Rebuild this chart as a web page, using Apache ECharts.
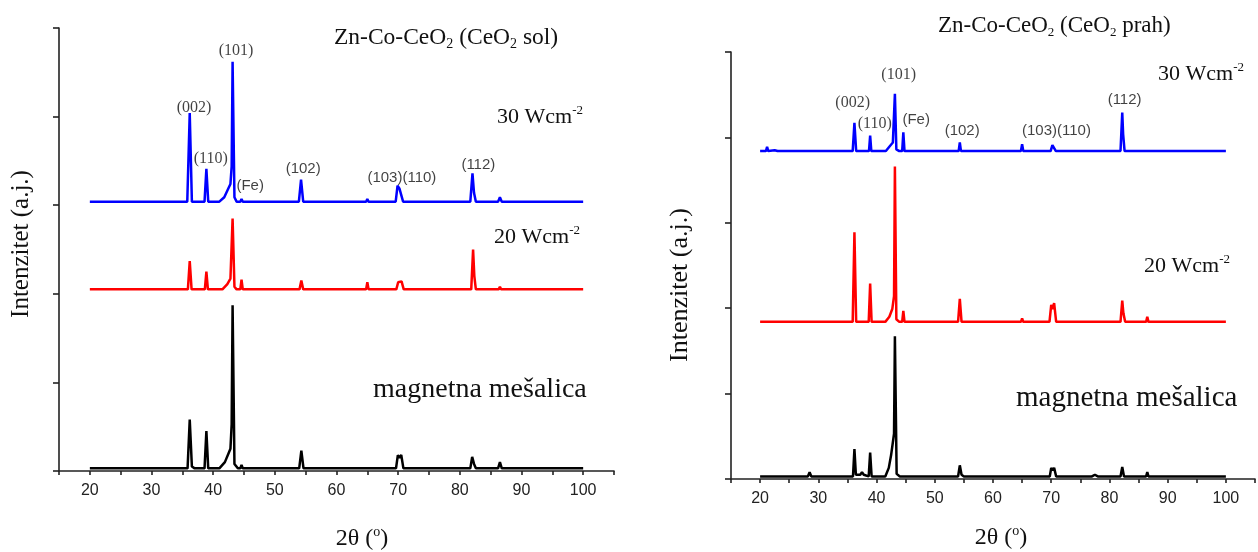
<!DOCTYPE html>
<html><head><meta charset="utf-8">
<script src="https://cdn.jsdelivr.net/npm/echarts@6/dist/echarts.min.js"></script>
<style>html,body{margin:0;padding:0;background:#fff}#c{width:1258px;height:552px}</style>
</head><body><div id="c"></div>
<script>
// ---- data (2θ in degrees, intensity above each trace's own baseline, a.u.) ----
const xTickLabels = [20, 30, 40, 50, 60, 70, 80, 90, 100];

// trace offsets (stacking) in axis units
const offsetsLeft  = { blue: 3.04, red: 2.05, black: 0.03 };
const offsetsRight = { blue: 3.84, red: 1.84, black: 0.03 };

const leftBlue = [[20,0],[35.8,0],[36.2,1.0],[36.55,0],[38.6,0],[38.9,0.37],[39.2,0],[41.0,0],[41.8,0.05],[42.4,0.14],[42.8,0.2],[43.0,0.4],[43.15,1.58],[43.45,0.05],[43.8,0],[44.4,0],[44.6,0.03],[44.8,0],[53.9,0],[54.25,0.25],[54.6,0],[64.8,0],[65.0,0.03],[65.2,0],[69.6,0],[69.9,0.18],[70.2,0.15],[70.45,0.17],[70.8,0],[76.8,0],[77.0,0.02],[77.2,0],[81.7,0],[82.05,0.32],[82.3,0.1],[82.6,0],[86.2,0],[86.5,0.05],[86.8,0],[89.8,0],[90,0.02],[90.2,0],[94.8,0],[95,0.02],[95.2,0],[100,0]];
const leftRed = [[20,0],[28.3,0],[28.5,0.01],[28.7,0],[35.9,0],[36.2,0.32],[36.5,0],[38.65,0],[38.9,0.2],[39.15,0],[41.5,0],[42.3,0.06],[42.8,0.12],[43.15,0.8],[43.45,0.03],[43.8,0],[44.4,0],[44.6,0.11],[44.8,0],[54.0,0],[54.3,0.1],[54.6,0],[64.8,0],[65.0,0.08],[65.2,0],[69.7,0],[70.0,0.08],[70.3,0.07],[70.55,0.09],[70.9,0],[81.85,0],[82.15,0.45],[82.35,0.15],[82.6,0],[86.3,0],[86.5,0.03],[86.7,0],[100,0]];
const leftBlack = [[20,0],[35.85,0],[36.2,0.55],[36.55,0.02],[37,0],[38.6,0],[38.9,0.42],[39.2,0],[41.0,0],[41.9,0.07],[42.5,0.17],[42.8,0.22],[43.0,0.5],[43.15,1.84],[43.45,0.05],[44.0,0],[44.4,0],[44.6,0.04],[44.8,0],[53.95,0],[54.3,0.2],[54.65,0],[64.8,0],[65,0.01],[65.2,0],[69.65,0],[69.95,0.15],[70.2,0.12],[70.5,0.15],[70.85,0],[76.8,0],[77,0.02],[77.2,0],[81.7,0],[82.0,0.13],[82.3,0.05],[82.6,0],[83.5,0],[83.7,0.02],[83.9,0],[86.2,0],[86.5,0.07],[86.8,0],[89.8,0],[90,0.02],[90.2,0],[94.8,0],[95,0.02],[95.2,0],[100,0]];

const rightBlue = [[20,0],[21.0,0],[21.2,0.05],[21.4,0],[22.5,0.01],[23,0],[35.9,0],[36.2,0.33],[36.5,0],[38.7,0],[38.9,0.18],[39.1,0],[41.6,0],[42.3,0.06],[42.8,0.1],[43.15,0.67],[43.4,0.02],[43.9,0],[44.4,0],[44.6,0.22],[44.8,0],[54.1,0],[54.3,0.1],[54.5,0],[64.8,0],[65.0,0.08],[65.2,0],[69.9,0],[70.2,0.07],[70.5,0.05],[70.8,0],[81.9,0],[82.2,0.45],[82.35,0.2],[82.6,0],[86.3,0],[86.5,0.02],[86.7,0],[100,0]];
const rightRed = [[20,0],[21.0,0],[21.2,0.02],[21.4,0],[35.9,0],[36.2,1.05],[36.5,0],[38.65,0],[38.9,0.45],[39.15,0],[41.5,0],[42.2,0.06],[42.7,0.15],[43.0,0.3],[43.15,1.82],[43.4,0.03],[43.9,0],[44.4,0],[44.6,0.13],[44.8,0],[54.0,0],[54.3,0.27],[54.6,0],[64.8,0],[65,0.04],[65.2,0],[69.7,0],[70.0,0.2],[70.25,0.15],[70.5,0.22],[70.85,0],[76.8,0],[77,0.02],[77.2,0],[81.9,0],[82.2,0.25],[82.4,0.1],[82.7,0],[86.3,0],[86.5,0.06],[86.7,0],[89.8,0],[90,0.02],[90.2,0],[94.8,0],[95,0.01],[95.2,0],[100,0]];
const rightBlack = [[20,0],[21,0],[21.2,0.02],[21.4,0],[28.2,0],[28.5,0.05],[28.8,0],[32.8,0],[33,0.01],[33.2,0],[35.95,0],[36.2,0.32],[36.45,0.02],[37.2,0.02],[37.5,0.05],[37.8,0.02],[38.65,0],[38.9,0.28],[39.15,0],[41.5,0],[42.1,0.1],[42.5,0.25],[42.8,0.26],[43.0,0.5],[43.15,1.64],[43.45,0.03],[44,0],[47.3,0],[47.5,0.02],[47.7,0],[54.0,0],[54.3,0.13],[54.6,0.02],[55,0],[64.8,0],[65,0.02],[65.2,0],[69.75,0],[70.0,0.1],[70.25,0.07],[70.5,0.1],[70.85,0],[77,0],[77.5,0.02],[78,0],[81.9,0],[82.2,0.11],[82.5,0],[86.3,0],[86.5,0.05],[86.7,0],[94.8,0],[95,0.02],[95.2,0],[100,0]];

// peak annotations: text, 2θ, y (axis units)
const peakNames   = ['(002)','(110)','(101)','(Fe)','(102)','(103)(110)','(112)'];
const peakSerif   = [true, true, true, false, false, false, false];
const leftLabelX  = [36.9, 39.6, 43.7, 46.0, 54.6, 70.6, 83.0];
const leftLabelY  = [4.10, 3.52, 4.74, 3.22, 3.41, 3.31, 3.45];
const rightLabelX = [35.9, 39.7, 43.8, 46.8, 54.7, 70.9, 82.6];
const rightLabelY = [4.40, 4.16, 4.73, 4.20, 4.08, 4.08, 4.44];

// ---- chart ----
const SERIF = 'Liberation Serif, Times New Roman, serif';
const SANS = 'Liberation Sans, Arial, sans-serif';
const chart = echarts.init(document.getElementById('c'));

function xAxisCfg(gi){
  return {gridIndex:gi, type:'value', min:15, max:105, interval:5,
    axisLine:{onZero:false, lineStyle:{color:'#222', width:1.6}},
    axisTick:{show:true, inside:false, length:4, lineStyle:{color:'#222', width:1.6}},
    axisLabel:{margin:12, fontFamily:SANS, fontSize:16, color:'#222',
      formatter: v => xTickLabels.indexOf(v) >= 0 ? String(v) : ''},
    splitLine:{show:false}};
}
function yAxisCfg(gi){
  return {gridIndex:gi, type:'value', min:0, max:5, interval:1,
    axisLine:{show:true, lineStyle:{color:'#222', width:1.6}},
    axisTick:{show:true, inside:false, length:6, lineStyle:{color:'#222', width:1.6}},
    axisLabel:{show:false}, splitLine:{show:false}};
}
function trace(pts, off, color, gi){
  return {type:'line', xAxisIndex:gi, yAxisIndex:gi, symbol:'none', silent:true,
    lineStyle:{color:color, width:2.5}, data: pts.map(p => [p[0], p[1] + off])};
}
function annot(xs, ys, gi){
  return {type:'scatter', xAxisIndex:gi, yAxisIndex:gi, symbolSize:0, silent:true, z:10,
    data: peakNames.map((n,i) => ({name:n, value:[xs[i], ys[i]],
      label:{fontFamily: peakSerif[i] ? SERIF : SANS, fontSize: peakSerif[i] ? 16 : 15}})),
    label:{show:true, position:'inside', color:'#111', formatter: p => p.name}};
}
function rt(x, y, parts, size, opts){
  opts = opts || {};
  let text = '';
  parts.forEach(p => { text += '{' + p[0] + '|' + p[1] + '}'; });
  return Object.assign({type:'text', x:x, y:y, silent:true, z:100,
    style:{text:text, align: opts.align || 'left', verticalAlign:'middle',
      textAlign: opts.align || 'left', textVerticalAlign:'middle',
      rich:{
        t:{fontFamily:SERIF, fontSize:size, fill:'#111', lineHeight:size*1.15},
        sub:{fontFamily:SERIF, fontSize:Math.round(size*0.58), fill:'#111', verticalAlign:'bottom'},
        sup:{fontFamily:SERIF, fontSize:Math.round(size*0.58), fill:'#111', verticalAlign:'top'}
      }}}, opts.rotation ? {rotation: opts.rotation} : {});
}

const graphics = [
  rt(334, 38, [['t','Zn-Co-CeO'],['sub','2'],['t',' (CeO'],['sub','2'],['t',' sol)']], 23.5),
  rt(497, 117, [['t','30 Wcm'],['sup','-2']], 22),
  rt(494, 237, [['t','20 Wcm'],['sup','-2']], 22),
  rt(373, 390, [['t','magnetna mešalica']], 28),
  rt(21, 244, [['t','Intenzitet (a.j.)']], 25, {align:'center', rotation:Math.PI/2}),
  rt(362, 539, [['t','2θ ('],['sup','o'],['t',')']], 24, {align:'center'}),
  rt(938, 26, [['t','Zn-Co-CeO'],['sub','2'],['t',' (CeO'],['sub','2'],['t',' prah)']], 23),
  rt(1158, 74, [['t','30 Wcm'],['sup','-2']], 22),
  rt(1144, 266, [['t','20 Wcm'],['sup','-2']], 22),
  rt(1016, 398, [['t','magnetna mešalica']], 29),
  rt(680, 285, [['t','Intenzitet (a.j.)']], 26, {align:'center', rotation:Math.PI/2}),
  rt(1001, 538, [['t','2θ ('],['sup','o'],['t',')']], 24, {align:'center'})
];

chart.setOption({
  animation:false,
  backgroundColor:'#ffffff',
  grid:[
    {left:59, top:28, width:555, height:443},
    {left:731, top:52, width:526, height:427}
  ],
  xAxis:[xAxisCfg(0), xAxisCfg(1)],
  yAxis:[yAxisCfg(0), yAxisCfg(1)],
  series:[
    trace(leftBlack, offsetsLeft.black, '#000000', 0),
    trace(leftRed, offsetsLeft.red, '#ff0000', 0),
    trace(leftBlue, offsetsLeft.blue, '#0000ff', 0),
    trace(rightBlack, offsetsRight.black, '#000000', 1),
    trace(rightRed, offsetsRight.red, '#ff0000', 1),
    trace(rightBlue, offsetsRight.blue, '#0000ff', 1),
    annot(leftLabelX, leftLabelY, 0),
    annot(rightLabelX, rightLabelY, 1)
  ],
  graphic: graphics
});
</script>
</body></html>
